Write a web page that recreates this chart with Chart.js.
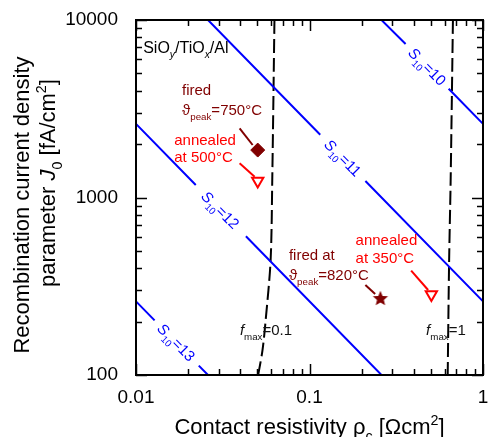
<!DOCTYPE html>
<html>
<head>
<meta charset="utf-8">
<script src="https://cdn.jsdelivr.net/npm/chart.js@4.4.0/dist/chart.umd.min.js"></script>
<style>
  html, body { margin: 0; padding: 0; background: #fff; overflow: hidden; }
</style>
</head>
<body>
<canvas id="grafico" width="492" height="437"></canvas>
<script>
// eixos
const xTicks = [0.01, 0.1, 1];
const xTickLabels = ['0.01', '0.1', '1'];
const yTicks = [100, 1000, 10000];
const yTickLabels = ['100', '1000', '10000'];

// linhas S10 (rho_c, J0); J0 = null -> vão para o rótulo
const rhoS10_10 = [0.26, 0.358, 0.476, 0.634, 1];
const j0S10_10 = [10000, 7330, null, 4100, 2600];
const rhoS10_11 = [0.026, 0.1153, 0.1556, 0.21, 1];
const j0S10_11 = [10000, 2255, null, 1238, 260];
const rhoS10_12 = [0.01, 0.0221, 0.0306, 0.043, 0.26];
const j0S10_12 = [2600, 1176, null, 605, 100];
const rhoS10_13 = [0.01, 0.0128, 0.017, 0.023, 0.026];
const j0S10_13 = [260, 203, null, 113, 100];

// posições dos rótulos S10
const s10Names = ['10', '11', '12', '13'];
const s10LabelRho = [0.476, 0.1556, 0.0306, 0.01704];
const s10LabelJ0 = [5460, 1671, 850, 152.6];

// curvas f_max
const rhoFmax01 = [0.0628, 0.0610, 0.0597, 0.0559, 0.0536, 0.0506];
const j0Fmax01 = [10000, 1255, 445, 204, 138, 100];
const rhoFmax1 = [0.671, 0.651, 0.638, 0.626];
const j0Fmax1 = [10000, 1255, 445, 100];

// medições
const fired750Rho = [0.0503];
const fired750J0 = [1850];
const fired820Rho = [0.2562];
const fired820J0 = [271.6];
const annealedRho = [0.0503, 0.504];
const annealedJ0 = [1240, 284];

// setas (início, fim)
const arrowFired750Rho = [0.03956, 0.04703];
const arrowFired750J0 = [2454, 1976];
const arrowAnn500Rho = [0.03956, 0.04829];
const arrowAnn500J0 = [1558, 1310];
const arrowFired820Rho = [0.2099, 0.239];
const arrowFired820J0 = [321.4, 286];
const arrowAnn350Rho = [0.3854, 0.4827];
const arrowAnn350J0 = [386.9, 301.3];

const AZUL = '#0000ff';
const VINHO = '#800000';
const VERMELHO = '#ff0000';
const FONTE = '"Liberation Sans", Arial, sans-serif';

function pontos(xs, ys) {
  return xs.map((x, i) => ({ x: x, y: ys[i] }));
}

function criarEstrela(r, cor) {
  const c = document.createElement('canvas');
  c.width = c.height = 2 * r + 2;
  const g = c.getContext('2d');
  g.fillStyle = cor;
  g.beginPath();
  for (let i = 0; i < 10; i++) {
    const ang = -Math.PI / 2 + i * Math.PI / 5;
    const rr = i % 2 ? r * 0.45 : r;
    g.lineTo(r + 1 + rr * Math.cos(ang), r + 1 + rr * Math.sin(ang) + 0.8);
  }
  g.closePath();
  g.fill();
  return c;
}

// texto com sub/sobrescritos: partes = [[texto, estilo]], estilo '', 'i', 'sub', 'isub', 'sup'
function textoRico(ctx, partes, x, y, tam, cor, alinhar) {
  ctx.save();
  ctx.fillStyle = cor;
  ctx.textBaseline = 'alphabetic';
  ctx.textAlign = 'left';
  const fonte = (st) => {
    const pequeno = st.includes('sub') || st === 'sup';
    const it = st.startsWith('i') ? 'italic ' : '';
    return it + (pequeno ? tam * 0.65 : tam) + 'px ' + FONTE;
  };
  let total = 0;
  partes.forEach(([t, st]) => { ctx.font = fonte(st); total += ctx.measureText(t).width; });
  let cx = alinhar === 'center' ? x - total / 2 : x;
  partes.forEach(([t, st]) => {
    ctx.font = fonte(st);
    let dy = 0;
    if (st.includes('sub')) dy = tam * 0.3;
    if (st === 'sup') dy = -tam * 0.42;
    ctx.fillText(t, cx, y + dy);
    cx += ctx.measureText(t).width;
  });
  ctx.restore();
}

const anotacoes = [
  { partes: [['SiO', ''], ['y', 'isub'], ['/TiO', ''], ['x', 'isub'], ['/Al', '']], rho: 0.0110, j0: 6516, cor: '#000', tam: 16 },
  { partes: [['fired', '']], rho: 0.01842, j0: 3780, cor: VINHO, tam: 15 },
  { partes: [['ϑ', ''], ['peak', 'sub'], ['=750°C', '']], rho: 0.01842, j0: 2916, cor: VINHO, tam: 15 },
  { partes: [['annealed', '']], rho: 0.01661, j0: 1976, cor: VERMELHO, tam: 15 },
  { partes: [['at 500°C', '']], rho: 0.01661, j0: 1585, cor: VERMELHO, tam: 15 },
  { partes: [['fired at', '']], rho: 0.0761, j0: 444.6, cor: VINHO, tam: 15 },
  { partes: [['ϑ', ''], ['peak', 'sub'], ['=820°C', '']], rho: 0.0761, j0: 342.8, cor: VINHO, tam: 15 },
  { partes: [['annealed', '']], rho: 0.1843, j0: 540, cor: VERMELHO, tam: 15 },
  { partes: [['at 350°C', '']], rho: 0.1843, j0: 427.6, cor: VERMELHO, tam: 15 },
  { partes: [['f', 'i'], ['max', 'sub'], ['=0.1', '']], rho: 0.0397, j0: 168, cor: '#111', tam: 15 },
  { partes: [['f', 'i'], ['max', 'sub'], ['=1', '']], rho: 0.470, j0: 168, cor: '#111', tam: 15 }
];

const decoracao = {
  id: 'decoracao',
  afterDraw(chart) {
    const { ctx, chartArea: a, scales: { x, y } } = chart;
    ctx.save();
    // ticks para dentro, nos quatro lados
    ctx.strokeStyle = '#000';
    ctx.lineWidth = 1.5;
    const linha = (x1, y1, x2, y2) => { ctx.beginPath(); ctx.moveTo(x1, y1); ctx.lineTo(x2, y2); ctx.stroke(); };
    for (let e = -2; e <= 0; e++) {
      for (let m = 1; m <= 9; m++) {
        const v = m * Math.pow(10, e);
        if (v > 1.0001) break;
        const px = Math.round(x.getPixelForValue(v)) + 0.5;
        const len = m === 1 ? 11 : 6;
        linha(px, a.bottom, px, a.bottom - len);
        linha(px, a.top, px, a.top + len);
      }
    }
    for (let e = 2; e <= 4; e++) {
      for (let m = 1; m <= 9; m++) {
        const v = m * Math.pow(10, e);
        if (v > 10001) break;
        const py = Math.round(y.getPixelForValue(v)) + 0.5;
        const len = m === 1 ? 11 : 6;
        linha(a.left, py, a.left + len, py);
        linha(a.right, py, a.right - len, py);
      }
    }
    ctx.lineWidth = 2;
    ctx.strokeRect(a.left, a.top, a.width, a.height);

    // rótulos das linhas S10, girados ao longo da linha
    s10Names.forEach((n, i) => {
      ctx.save();
      ctx.translate(x.getPixelForValue(s10LabelRho[i]), y.getPixelForValue(s10LabelJ0[i]));
      ctx.rotate(Math.PI / 4);
      textoRico(ctx, [['S', 'i'], ['10', 'sub'], ['=' + n, '']], 0, 5, 15, AZUL, 'center');
      ctx.restore();
    });

    anotacoes.forEach(an => {
      textoRico(ctx, an.partes, x.getPixelForValue(an.rho), y.getPixelForValue(an.j0), an.tam, an.cor, 'left');
    });

    // títulos dos eixos
    ctx.save();
    ctx.translate(29, 205);
    ctx.rotate(-Math.PI / 2);
    textoRico(ctx, [['Recombination current density', '']], 0, 0, 22, '#000', 'center');
    ctx.restore();
    ctx.save();
    ctx.translate(55, 183);
    ctx.rotate(-Math.PI / 2);
    textoRico(ctx, [['parameter ', ''], ['J', 'i'], ['0', 'sub'], [' [fA/cm', ''], ['2', 'sup'], [']', '']], 0, 0, 22, '#000', 'center');
    ctx.restore();
    textoRico(ctx, [['Contact resistivity ρ', ''], ['c', 'sub'], [' [Ωcm', ''], ['2', 'sup'], [']', '']], (a.left + a.right) / 2, 434, 22, '#000', 'center');
    ctx.restore();
  }
};

const linhaAzul = (xs, ys) => ({
  data: pontos(xs, ys), borderColor: AZUL, borderWidth: 2, pointRadius: 0, spanGaps: false, tension: 0
});
const tracejada = (xs, ys) => ({
  data: pontos(xs, ys), borderColor: '#000', borderWidth: 2, borderDash: [14, 5], pointRadius: 0, tension: 0.3
});
const seta = (xs, ys, cor) => ({
  data: pontos(xs, ys), borderColor: cor, borderWidth: 2, pointRadius: 0
});

new Chart(document.getElementById('grafico'), {
  type: 'line',
  data: {
    datasets: [
      linhaAzul(rhoS10_10, j0S10_10),
      linhaAzul(rhoS10_11, j0S10_11),
      linhaAzul(rhoS10_12, j0S10_12),
      linhaAzul(rhoS10_13, j0S10_13),
      tracejada(rhoFmax01, j0Fmax01),
      tracejada(rhoFmax1, j0Fmax1),
      seta(arrowFired750Rho, arrowFired750J0, VINHO),
      seta(arrowAnn500Rho, arrowAnn500J0, VERMELHO),
      seta(arrowFired820Rho, arrowFired820J0, VINHO),
      seta(arrowAnn350Rho, arrowAnn350J0, VERMELHO),
      {
        data: pontos(fired750Rho, fired750J0), showLine: false,
        pointStyle: 'rectRot', pointRadius: 7, backgroundColor: VINHO, borderColor: VINHO, borderWidth: 1
      },
      {
        data: pontos(fired820Rho, fired820J0), showLine: false,
        pointStyle: criarEstrela(8, VINHO), pointRadius: 8
      },
      {
        data: pontos(annealedRho, annealedJ0), showLine: false,
        pointStyle: 'triangle', rotation: 180, pointRadius: 6.5,
        backgroundColor: 'rgba(255,255,255,0)', borderColor: VERMELHO, borderWidth: 2
      }
    ]
  },
  options: {
    responsive: false,
    animation: false,
    layout: { padding: { top: 20, right: 2, bottom: 0, left: 0 } },
    plugins: { legend: { display: false }, tooltip: { enabled: false } },
    scales: {
      x: {
        type: 'logarithmic', min: 0.01, max: 1,
        grid: { display: false }, border: { display: false },
        afterBuildTicks: (scale) => { scale.ticks = xTicks.map(v => ({ value: v })); },
        afterFit: (scale) => { scale.height = 62; scale.paddingLeft = 0; scale.paddingRight = 0; },
        ticks: {
          autoSkip: false, maxRotation: 0, padding: 3, color: '#000',
          font: { family: FONTE, size: 19 },
          callback: (v, i) => xTickLabels[i]
        }
      },
      y: {
        type: 'logarithmic', min: 100, max: 10000,
        grid: { display: false }, border: { display: false },
        afterBuildTicks: (scale) => { scale.ticks = yTicks.map(v => ({ value: v })); },
        afterFit: (scale) => { scale.width = 136; scale.paddingTop = 0; scale.paddingBottom = 0; },
        ticks: {
          autoSkip: false, padding: 10, color: '#000',
          font: { family: FONTE, size: 19 },
          callback: (v, i) => yTickLabels[i]
        }
      }
    }
  },
  plugins: [decoracao]
});
</script>
</body>
</html>
